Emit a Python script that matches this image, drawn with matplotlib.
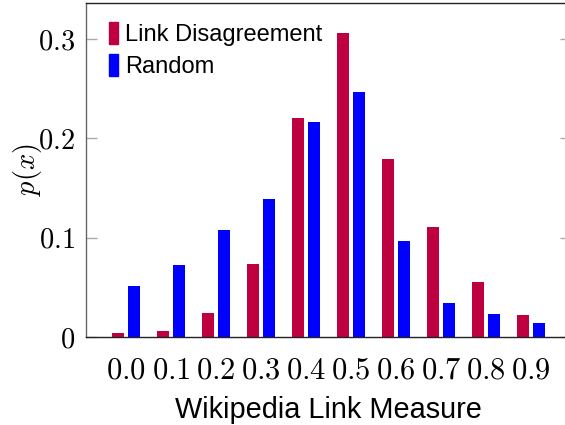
import matplotlib
matplotlib.use("Agg")
import matplotlib.pyplot as plt
from matplotlib.patches import Patch
import numpy as np

plt.rcParams['font.family'] = ['Liberation Sans', 'DejaVu Sans']
plt.rcParams['mathtext.fontset'] = 'cm'

categories = ['0.0', '0.1', '0.2', '0.3', '0.4', '0.5', '0.6', '0.7', '0.8', '0.9']
link_disagreement = [0.004, 0.006, 0.024, 0.074, 0.221, 0.306, 0.179, 0.111, 0.055, 0.022]
random_vals = [0.051, 0.072, 0.108, 0.139, 0.216, 0.247, 0.097, 0.034, 0.023, 0.014]
yticks = [0, 0.1, 0.2, 0.3]
ytick_labels = ['$0$', '$0.1$', '$0.2$', '$0.3$']

c_ld = '#BF0040'
c_r = '#0000FF'

fig = plt.figure(figsize=(5.65, 4.25), dpi=100)
W, H = 565, 425
left, right, top, bottom = 86, 571, 3, 337
ax = fig.add_axes([left / W, 1 - bottom / H, (right - left) / W, (bottom - top) / H])

x = np.arange(len(categories))
bw = 0.267
off = 0.178
ax.bar(x - off, link_disagreement, bw, color=c_ld, label='Link Disagreement')
ax.bar(x + off, random_vals, bw, color=c_r, label='Random')

ax.set_xlim(-0.889, len(categories) - 1 + 0.889)
ax.set_ylim(0, 0.3363)
ax.set_xticks(x)
ax.set_xticklabels(['$' + c + '$' for c in categories], fontsize=22)
ax.set_yticks(yticks)
ax.set_yticklabels(ytick_labels, fontsize=20.5)
ax.tick_params(axis='x', length=0, pad=13)
ax.tick_params(axis='y', direction='in', length=8, width=1.0, color='#aaaaaa', pad=8, right=True)

for s in ['top', 'bottom']:
    ax.spines[s].set_color('#222222')
ax.spines['left'].set_color('#666666')
for s in ax.spines.values():
    s.set_linewidth(1.0)

ax.set_xlabel('Wikipedia Link Measure', fontsize=20.8)
ax.xaxis.set_label_coords(0.5, (bottom - 396) / (bottom - top))
ax.set_ylabel('$p(x)$', fontsize=20.5, va='center')
ax.yaxis.set_label_coords((28 - left) / (right - left), 0.5)

handles = [Patch(color=c_ld), Patch(color=c_r)]
ax.legend(handles, ['Link Disagreement', 'Random'], loc='upper left',
          bbox_to_anchor=(23 / 485, 1 - 19 / 334), frameon=False, fontsize=17,
          handlelength=0.37, handleheight=1.05, handletextpad=0.3, labelspacing=0.33,
          borderpad=0, borderaxespad=0)

fig.savefig('out.png', dpi=100)
